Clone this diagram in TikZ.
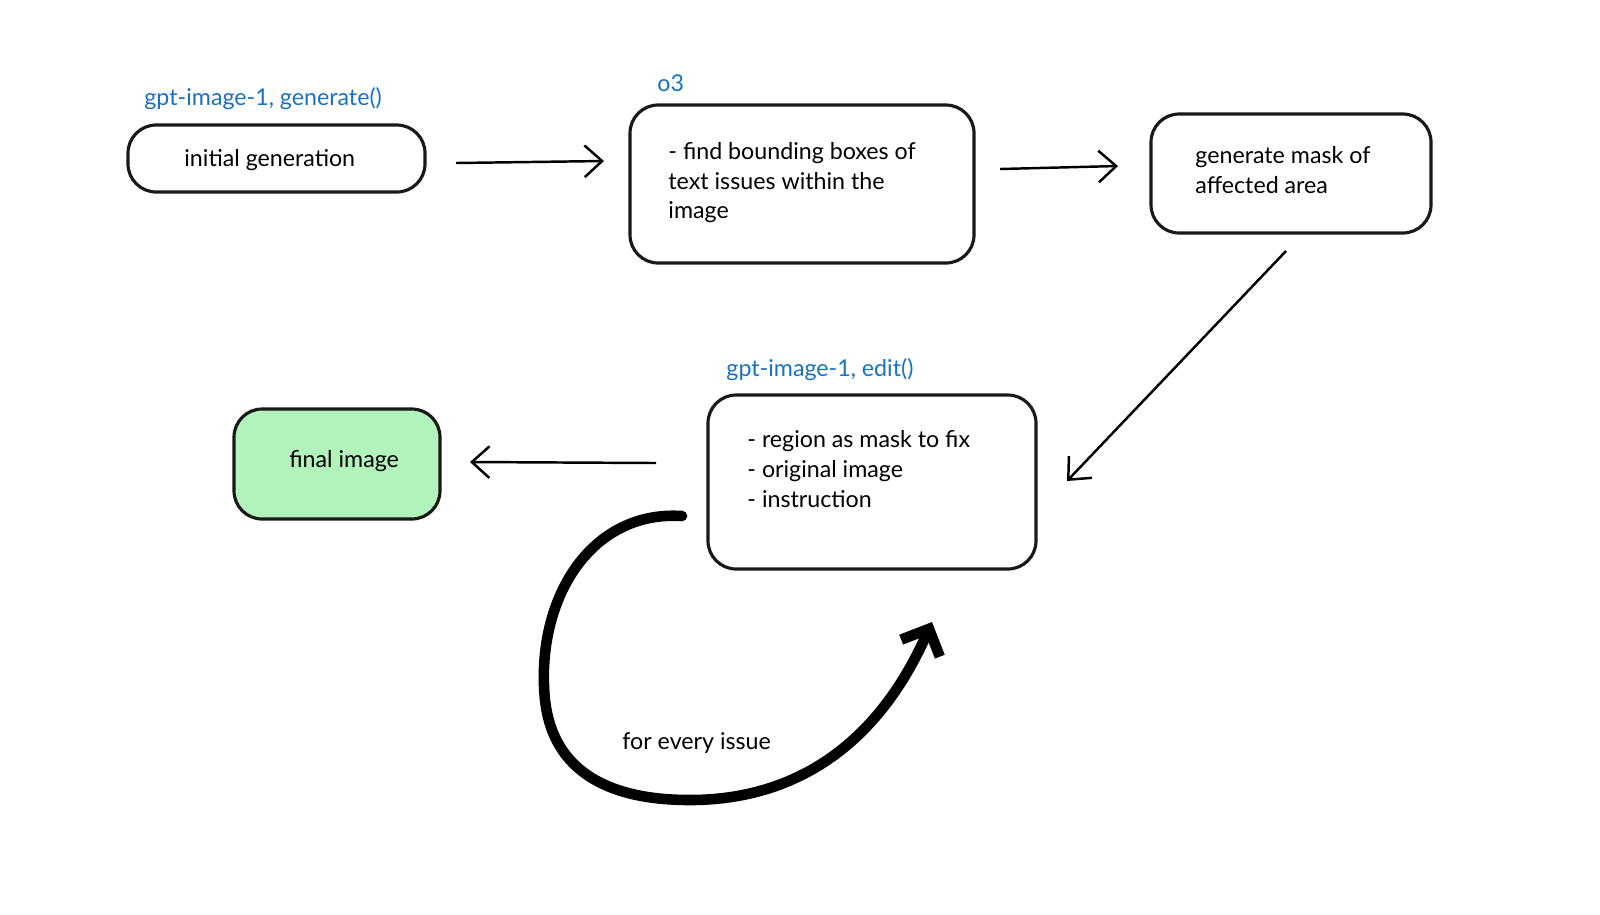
\documentclass[tikz,border=0pt]{standalone}
\usepackage{fontspec}
\setmainfont{Lato}
\usetikzlibrary{arrows.meta}
\definecolor{lblue}{HTML}{1971C2}
\definecolor{lgreen}{HTML}{B2F2BB}
\begin{document}
\begin{tikzpicture}[x=0.01cm,y=-0.01cm,
  box/.style={draw=black!90,line width=0.9pt,rounded corners=8pt},
  txt/.style={font=\fontsize{6.6pt}{8.4pt}\selectfont,align=left,anchor=west},
  lab/.style={font=\fontsize{6.6pt}{8pt}\selectfont,text=lblue,anchor=west},
  arr/.style={line width=0.7pt,-{Straight Barb[length=5pt,width=9pt]}}]
\useasboundingbox (0,0) rectangle (1600,914);
\draw[box] (128,125) rectangle (425,192);
\node[coordinate] (a) at (276,158) {};
\node[txt] (ta) at (172,160) {initial generation};
\node[lab] (la) at (132,99) {gpt-image-1, generate()};
\draw[box] (630,105) rectangle (974,263);
\node[txt] (tb) at (656,183) {- find bounding boxes of\\text issues within the\\image};
\node[lab] (lb) at (645,83) {o3};
\draw[box] (1151,114) rectangle (1431,233);
\node[txt] (tc) at (1183,170) {generate mask of\\affected area};
\draw[box] (708,395) rectangle (1036,569);
\node[txt] (td) at (735,469) {- region as mask to fix\\- original image\\- instruction};
\node[lab] (ld) at (714,370) {gpt-image-1, edit()};
\draw[box,fill=lgreen] (234,409) rectangle (440,519);
\node[txt] (te) at (277,461) {final image};
\coordinate (p1) at (456,163); \coordinate (q1) at (604,161);
\coordinate (p2) at (1000,169); \coordinate (q2) at (1118,166);
\coordinate (p3) at (1286,251); \coordinate (q3) at (1067,481);
\coordinate (p4) at (656,463); \coordinate (q4) at (470,462);
\draw[arr] (p1) -- (q1);
\draw[arr] (p2) -- (q2);
\draw[arr] (p3) -- (q3);
\draw[arr] (p4) -- (q4);
\coordinate (c0) at (682,516); \coordinate (c1) at (545,700);
\coordinate (c2) at (690,800); \coordinate (c3) at (932,622);
\draw[line width=3pt,line cap=round,line join=round,-{Straight Barb[length=6pt,width=12pt,line width=3pt]}]
  (c0) .. controls (590,510) and (535,600) .. (c1)
  .. controls (555,790) and (640,800) .. (c2)
  .. controls (800,800) and (880,740) .. (c3);
\node[txt] (tf) at (610,743) {for every issue};
\end{tikzpicture}
\end{document}
